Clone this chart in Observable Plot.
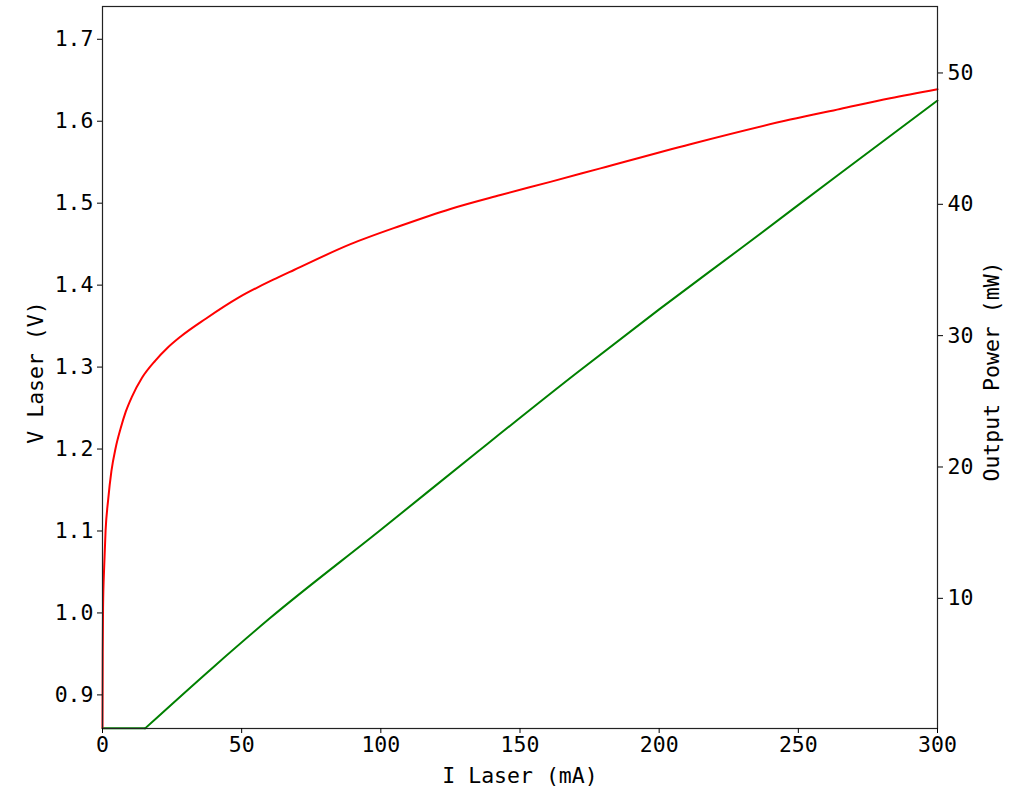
<!DOCTYPE html>
<html>
<head>
<meta charset="utf-8">
<script src="https://cdn.jsdelivr.net/npm/d3@7"></script>
<script src="https://cdn.jsdelivr.net/npm/@observablehq/plot@0.6"></script>
<style>
  html, body { margin: 0; padding: 0; background: #fff; }
</style>
</head>
<body>
<div id="chart"></div>
<script>
// Laser current (mA) and voltage (V) — red curve
const currentV = [0, 0.08, 0.2, 0.6, 1.1, 2.0, 3.2, 4.7, 6.5, 8.3, 10.6, 14.2, 19.0, 23.2, 28.0, 37.1, 49.0, 62.2, 68.8, 89.1, 107.1, 125.0, 143.0, 160.9, 178.9, 211.2, 247.1, 265.0, 283.0, 300];
const voltage  = [0.86, 0.95, 1.007, 1.056, 1.100, 1.137, 1.173, 1.201, 1.225, 1.245, 1.264, 1.287, 1.308, 1.323, 1.337, 1.359, 1.385, 1.408, 1.4185, 1.450, 1.4725, 1.493, 1.510, 1.526, 1.5425, 1.572, 1.602, 1.615, 1.628, 1.639];

// Laser current (mA) and output power (mW) — green curve
const currentP = [0, 15.3, 40, 60, 100, 135, 170, 200, 230, 265, 300];
const power    = [0.1, 0.1, 4.8, 8.46, 15.22, 21.2, 27.1, 32.0, 36.75, 42.35, 47.9];

// Tick labels
const xTicks = [0, 50, 100, 150, 200, 250, 300];
const vTicks = [0.9, 1.0, 1.1, 1.2, 1.3, 1.4, 1.5, 1.6, 1.7];
const pTicks = [10, 20, 30, 40, 50];

// Axis titles
const xTitle = "I Laser (mA)";
const yLeftTitle = "V Laser (V)";
const yRightTitle = "Output Power (mW)";

// Axis domains
const vDomain = [0.859, 1.740];
const pDomain = [0.09, 55.06];

const toV = p => vDomain[0] + (p - pDomain[0]) * (vDomain[1] - vDomain[0]) / (pDomain[1] - pDomain[0]);
const fromV = v => pDomain[0] + (v - vDomain[0]) * (pDomain[1] - pDomain[0]) / (vDomain[1] - vDomain[0]);

const redData = currentV.map((c, i) => ({c, v: voltage[i]}));
const greenFlat = currentP.slice(0, 2).map((c, i) => ({c, p: power[i]}));
const greenRise = currentP.slice(1).map((c, i) => ({c, p: power[i + 1]}));

const font = "'DejaVu Sans Mono', monospace";

const chart = Plot.plot({
  width: 1024,
  height: 794,
  marginLeft: 102,
  marginRight: 87,
  marginTop: 6,
  marginBottom: 66,
  style: {fontFamily: font, fontSize: "21.5px", color: "#000", background: "#fff"},
  x: {domain: [0, 300]},
  y: {domain: vDomain},
  marks: [
    Plot.line(greenFlat, {x: "c", y: d => toV(d.p), stroke: "green", strokeWidth: 2}),
    Plot.line(greenRise, {x: "c", y: d => toV(d.p), stroke: "green", strokeWidth: 2, curve: "monotone-x"}),
    Plot.line(redData, {x: "c", y: "v", stroke: "red", strokeWidth: 2, curve: "monotone-x"}),
    Plot.frame({stroke: "#222", strokeWidth: 1.2}),
    Plot.axisX(xTicks, {tickSize: 5, tickPadding: 3, label: null}),
    Plot.axisY(vTicks, {anchor: "left", tickSize: 5, tickPadding: 4, tickFormat: d => d.toFixed(1), label: null}),
    Plot.axisY(pTicks.map(toV), {anchor: "right", tickSize: 5, tickPadding: 5, tickFormat: d => String(Math.round(fromV(d))), label: null}),
    Plot.text([xTitle], {frameAnchor: "bottom", dy: 48, lineAnchor: "middle", textAnchor: "middle", text: d => d, fontSize: 21.5}),
    Plot.text([yLeftTitle], {frameAnchor: "left", dx: -66, dy: 5, rotate: -90, lineAnchor: "middle", textAnchor: "middle", text: d => d, fontSize: 21.5}),
    Plot.text([yRightTitle], {frameAnchor: "right", dx: 55, dy: 4, rotate: -90, lineAnchor: "middle", textAnchor: "middle", text: d => d, fontSize: 21.5})
  ]
});
document.getElementById("chart").appendChild(chart);
</script>
</body>
</html>
